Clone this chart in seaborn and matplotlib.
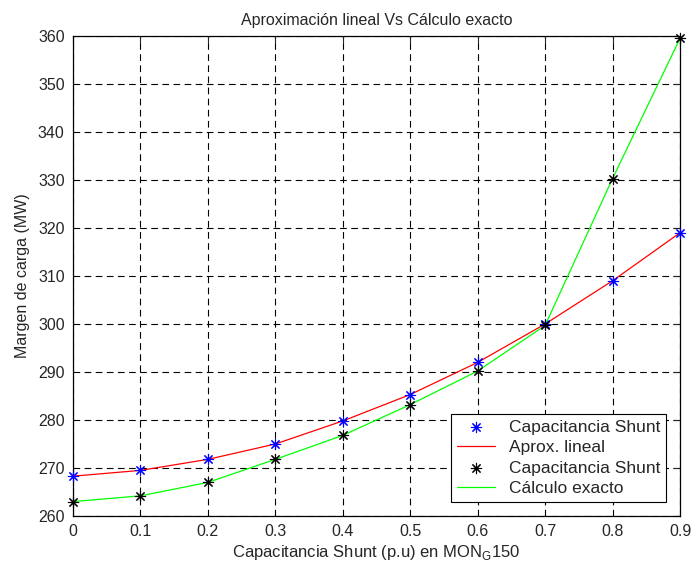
import matplotlib
matplotlib.use("Agg")
import matplotlib.pyplot as plt
import seaborn as sns
import pandas as pd

# Data
capacitancia = [0.0, 0.1, 0.2, 0.3, 0.4, 0.5, 0.6, 0.7, 0.8, 0.9]
aprox_lineal = [268.3, 269.5, 271.8, 275.0, 279.8, 285.3, 292.0, 300.0, 309.0, 319.0]
calculo_exacto = [263.0, 264.2, 267.0, 271.8, 276.8, 283.2, 290.2, 299.7, 330.3, 359.5]
x_ticks = [0, 0.1, 0.2, 0.3, 0.4, 0.5, 0.6, 0.7, 0.8, 0.9]
y_ticks = list(range(260, 361, 10))

df = pd.DataFrame({"x": capacitancia, "lineal": aprox_lineal, "exacto": calculo_exacto})

sns.set_style("white")
plt.rcParams['font.family'] = ['Liberation Sans', 'DejaVu Sans']

fig = plt.figure(figsize=(6.92, 5.71), dpi=100)
ax = fig.add_axes([73 / 692, 1 - 516 / 571, (680 - 73) / 692, (516 - 36) / 571])

star = (8, 2, 0)
sns.scatterplot(data=df, x="x", y="lineal", ax=ax, marker=star, s=55,
                color="blue", linewidth=0.8, label="Capacitancia Shunt", zorder=3,
                clip_on=False)
sns.lineplot(data=df, x="x", y="lineal", ax=ax, color="red", linewidth=0.9,
             label="Aprox. lineal", zorder=2)
sns.scatterplot(data=df, x="x", y="exacto", ax=ax, marker=star, s=55,
                color="black", linewidth=0.8, label="Capacitancia Shunt", zorder=3,
                clip_on=False)
sns.lineplot(data=df, x="x", y="exacto", ax=ax, color="#00ff00", linewidth=0.9,
             label="Cálculo exacto", zorder=2)

ax.set_xlim(0, 0.9)
ax.set_ylim(260, 360)
ax.set_xticks(x_ticks)
ax.set_xticklabels(["0", "0.1", "0.2", "0.3", "0.4", "0.5", "0.6", "0.7", "0.8", "0.9"])
ax.set_yticks(y_ticks)
ax.grid(True, color="black", linestyle=(0, (6, 4)), linewidth=0.8)
ax.tick_params(direction="in", length=5, top=True, right=True, labelsize=11.5, pad=6)
for sp in ax.spines.values():
    sp.set_color("black")
    sp.set_linewidth(0.9)

ax.set_title("Aproximación lineal Vs Cálculo exacto", fontsize=11.5, pad=8)
ax.set_xlabel("Capacitancia Shunt (p.u) en MON$_\\mathregular{G}$150", fontsize=12, labelpad=3)
ax.set_ylabel("Margen de carga (MW)", fontsize=11.5, labelpad=6)

leg = ax.legend(loc="lower right", fontsize=12.5, frameon=True, fancybox=False,
                edgecolor="black", framealpha=1, borderaxespad=0.8, handlelength=2.2,
                labelspacing=0.3, borderpad=0.35)
leg.get_frame().set_linewidth(0.8)

fig.savefig("out.png", dpi=100)
